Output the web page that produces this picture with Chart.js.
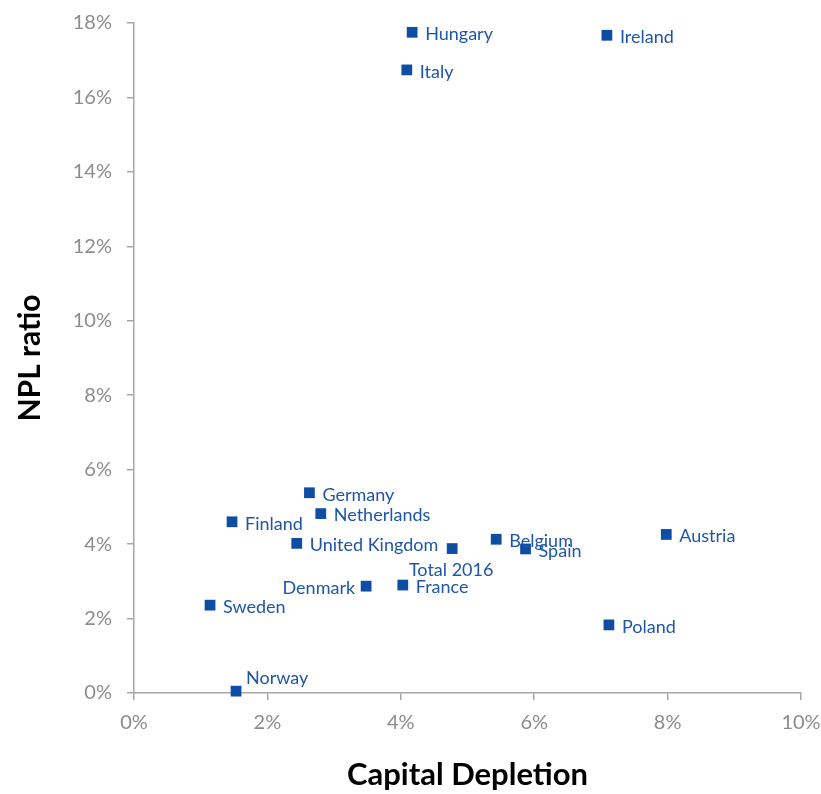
<!DOCTYPE html>
<html>
<head>
<meta charset="utf-8">
<script src="https://cdn.jsdelivr.net/npm/chart.js@4/dist/chart.umd.min.js"></script>
<style>
  html, body { margin: 0; padding: 0; background: #ffffff; }
  #wrap { width: 821px; height: 794px; }
</style>
</head>
<body>
<div id="wrap"><canvas id="c" width="821" height="794"></canvas></div>
<script>
// ---- data (values in percent) ----
const countries = ["Hungary","Ireland","Italy","Germany","Netherlands","Finland","United Kingdom","Total 2016","Belgium","Spain","Austria","Denmark","France","Sweden","Poland","Norway"];
const capitalDepletion = [4.17, 7.09, 4.09, 2.63, 2.80, 1.47, 2.44, 4.77, 5.43, 5.87, 7.98, 3.48, 4.03, 1.14, 7.12, 1.53];
const nplRatio = [17.75, 17.67, 16.74, 5.38, 4.82, 4.60, 4.02, 3.88, 4.13, 3.87, 4.26, 2.87, 2.90, 2.36, 1.83, 0.05];
const labelPlacement = ["right","right","right","right","right","right","right","below","right","right","right","left","right","right","right","aboveRight"];
const xTicks = [0, 2, 4, 6, 8, 10];
const yTicks = [0, 2, 4, 6, 8, 10, 12, 14, 16, 18];

const points = capitalDepletion.map((x, i) => ({ x: x, y: nplRatio[i] }));

const BLUE = '#0E4DA4';
const LABEL_BLUE = '#1F56A8';
const GREY = '#8C8C8C';
const AXIS = '#A6A6A6';
const FONT = 'Lato, "Open Sans", sans-serif';

const labelPlugin = {
  id: 'pointLabels',
  afterDatasetsDraw(chart) {
    const ctx = chart.ctx;
    const meta = chart.getDatasetMeta(0);
    ctx.save();
    ctx.font = '18px ' + FONT;
    ctx.fillStyle = LABEL_BLUE;
    ctx.textBaseline = 'middle';
    meta.data.forEach((el, i) => {
      const p = labelPlacement[i];
      let tx = el.x, ty = el.y + 2;
      if (p === 'right') { ctx.textAlign = 'left'; tx = el.x + 13; }
      else if (p === 'left') { ctx.textAlign = 'right'; tx = el.x - 11; }
      else if (p === 'below') { ctx.textAlign = 'center'; tx = el.x - 1; ty = el.y + 22; }
      else if (p === 'aboveRight') { ctx.textAlign = 'left'; tx = el.x + 10; ty = el.y - 13; }
      ctx.fillText(countries[i], tx, ty);
    });
    ctx.restore();
  }
};

new Chart(document.getElementById('c'), {
  type: 'scatter',
  data: {
    datasets: [{
      label: 'NPL vs Capital Depletion',
      data: points,
      pointStyle: 'rect',
      pointRadius: 7.6,
      pointHoverRadius: 7.6,
      backgroundColor: BLUE,
      borderColor: BLUE,
      borderWidth: 0,
      clip: false
    }]
  },
  options: {
    responsive: false,
    animation: false,
    layout: { padding: { top: 23, right: 20, left: 0, bottom: 0 } },
    plugins: {
      legend: { display: false },
      tooltip: { enabled: false }
    },
    scales: {
      x: {
        type: 'linear',
        min: 0, max: 10,
        afterBuildTicks(scale) { scale.ticks = xTicks.map(v => ({ value: v })); },
        afterFit(scale) { scale.height = 101; scale.paddingLeft = 0; scale.paddingRight = 0; },
        ticks: {
          color: GREY,
          font: { family: FONT, size: 20 },
          padding: 11,
          callback: v => v + '%'
        },
        grid: { drawOnChartArea: false, drawTicks: true, tickLength: 7, color: AXIS, lineWidth: 1.5 },
        border: { display: true, color: AXIS, width: 1.5 },
        title: {
          display: true,
          text: 'Capital Depletion',
          color: '#000000',
          font: { family: FONT, size: 31, weight: 'bold' },
          padding: { top: 0, bottom: 0 }
        }
      },
      y: {
        type: 'linear',
        min: 0, max: 18,
        afterBuildTicks(scale) { scale.ticks = yTicks.map(v => ({ value: v })); },
        afterFit(scale) { scale.width = 134; scale.paddingTop = 0; scale.paddingBottom = 0; },
        ticks: {
          color: GREY,
          font: { family: FONT, size: 20 },
          padding: 15,
          callback: v => v + '%'
        },
        grid: { drawOnChartArea: false, drawTicks: true, tickLength: 7, color: AXIS, lineWidth: 1.5 },
        border: { display: true, color: AXIS, width: 1.5 },
        title: {
          display: true,
          text: 'NPL ratio',
          color: '#000000',
          font: { family: FONT, size: 30, weight: 'bold' },
          padding: { top: 12, bottom: 0 }
        }
      }
    }
  },
  plugins: [labelPlugin]
});
</script>
</body>
</html>
